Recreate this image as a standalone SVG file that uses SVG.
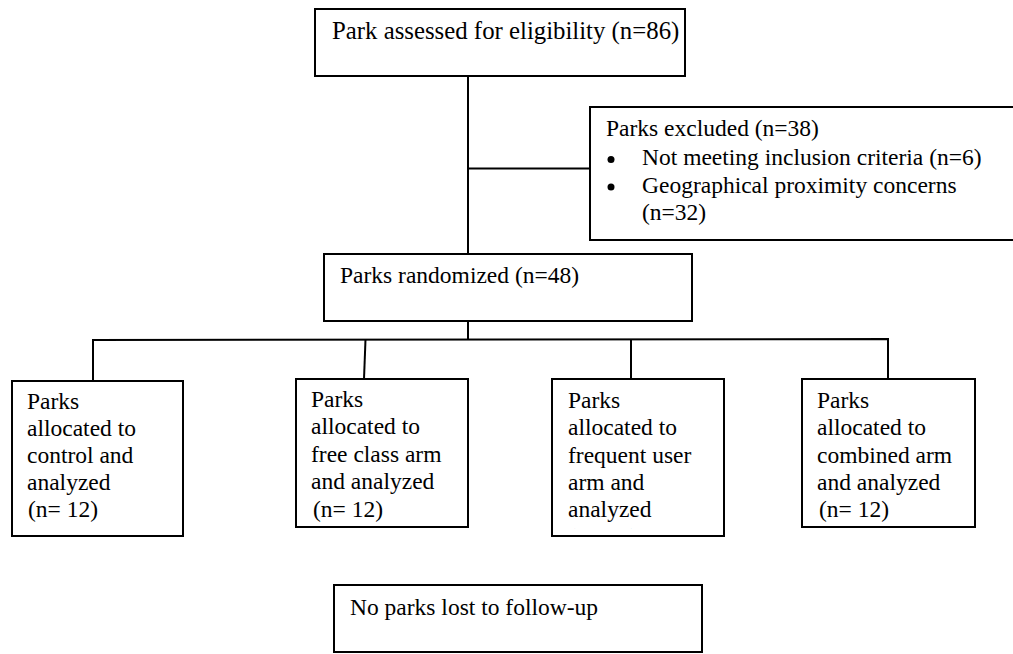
<svg xmlns="http://www.w3.org/2000/svg" width="1013" height="654" viewBox="0 0 1013 654">
<style>
.box{fill:#fff;stroke:#000;stroke-width:2}
.ln{fill:none;stroke:#000;stroke-width:2}
</style>
<defs>
<clipPath id="clip3"><rect x="553" y="380" width="170" height="149"/></clipPath>
</defs>
<rect width="1013" height="654" fill="#fff"/>
<g id="connectors">
<path class="ln" d="M468,76 V254"/>
<path class="ln" d="M468,168.5 H590"/>
<path class="ln" d="M468,321 V339.5"/>
<path class="ln" d="M93,381 V340 L888,339 V379"/>
<path class="ln" d="M365.5,339.5 L364,379"/>
<path class="ln" d="M631,339.5 V379"/>
</g>
<g font-family="Liberation Serif, DejaVu Serif, serif" font-size="23.5" fill="#000">
<g id="assessed">
<rect class="box" x="315" y="9" width="370" height="67"/>
<text x="332" y="39" font-size="24.8">Park assessed for eligibility (n=86)</text>
</g>
<g id="excluded">
<rect class="box" x="590" y="107" width="440" height="133"/>
<text x="606" y="136">Parks excluded (n=38)</text>
<circle cx="611" cy="159.5" r="3.5"/>
<text x="642" y="165">Not meeting inclusion criteria (n=6)</text>
<circle cx="611" cy="187" r="3.5"/>
<text x="642" y="193">Geographical proximity concerns</text>
<text x="642" y="220">(n=32)</text>
</g>
<g id="randomized">
<rect class="box" x="324" y="254" width="368" height="67"/>
<text x="340" y="283">Parks randomized (n=48)</text>
</g>
<g id="control">
<rect class="box" x="12" y="381" width="171" height="155"/>
<text x="27" y="409">Parks</text>
<text x="27" y="436">allocated to</text>
<text x="27" y="463">control and</text>
<text x="27" y="490">analyzed</text>
<text x="28" y="517">(n= 12)</text>
</g>
<g id="freeclass">
<rect class="box" x="296" y="379" width="172" height="148"/>
<text x="311" y="407">Parks</text>
<text x="311" y="434">allocated to</text>
<text x="311" y="462">free class arm</text>
<text x="311" y="489">and analyzed</text>
<text x="313" y="517">(n= 12)</text>
</g>
<g id="frequent">
<rect class="box" x="552" y="379" width="172" height="157"/>
<text x="568" y="408">Parks</text>
<text x="568" y="435">allocated to</text>
<text x="568" y="463">frequent user</text>
<text x="568" y="490">arm and</text>
<text x="568" y="517">analyzed</text>
<text x="568" y="545" clip-path="url(#clip3)">(n= 12)</text>
</g>
<g id="combined">
<rect class="box" x="802" y="379" width="173" height="148"/>
<text x="817" y="408">Parks</text>
<text x="817" y="435">allocated to</text>
<text x="817" y="463">combined arm</text>
<text x="817" y="490">and analyzed</text>
<text x="819" y="517">(n= 12)</text>
</g>
<g id="lost">
<rect class="box" x="334" y="585" width="368" height="67"/>
<text x="350" y="615">No parks lost to follow-up</text>
</g>
</g>
</svg>
